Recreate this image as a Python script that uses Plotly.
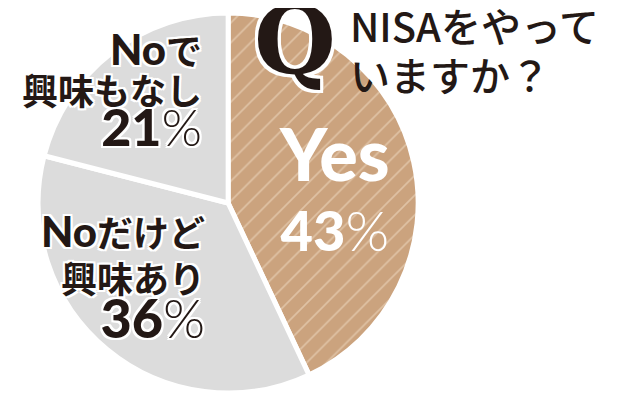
import plotly.graph_objects as go

labels = ["Yes", "Noだけど興味あり", "Noで興味もなし"]
values = [43, 36, 21]
colors = ["#cba37e", "#dcdcdc", "#dcdcdc"]
patterns = ["/", "", ""]

title_q = "Q"
title_lines = ["NISAをやって", "いますか？"]

JP = "Noto Sans CJK JP"
LAT = "'Lato Black',Lato"
DARK = "#231815"

def outline(w):
    return ", ".join(f"{dx}px {dy}px 0 white" for dx in (-w, 0, w) for dy in (-w, 0, w) if dx or dy)

fig = go.Figure(go.Pie(
    labels=labels, values=values, sort=False, direction="clockwise", rotation=0,
    textinfo="none", hoverinfo="skip", showlegend=False,
    marker=dict(colors=colors, line=dict(color="white", width=5),
                pattern=dict(shape=patterns, fgcolor="#dfc2a4", bgcolor=colors,
                             size=14, solidity=0.12, fillmode="replace")),
    domain=dict(x=[0.044, 0.644], y=[0.0375, 0.9875]),
))

def lat(t, size, weight=900):
    return f"<span style=\"font-family:{LAT};font-weight:{weight};font-size:{size}px\">{t}</span>"

def latl(t, size):
    return f"<span style=\"font-family:Lato;font-weight:300;font-size:{size}px\">{t}</span>"

def jp(t, size, weight=700):
    return f"<span style=\"font-family:{JP};font-weight:{weight};font-size:{size}px\">{t}</span>"

def pct(v, size):
    return lat(str(v), size, 900) + latl("%", size)

groups = []
groups.append(dict(
    x=196 / 640, y=1 - 82 / 400, base=31, shadow=outline(2), color=DARK,
    text=lat("No", 42) + jp("で", 36) + "<br>" + jp("興味もなし", 36) + "<br>" + pct(values[2], 52)))
groups.append(dict(
    x=199 / 640, y=1 - 269 / 400, base=35, shadow=outline(2), color=DARK,
    text=lat("No", 42) + jp("だけど", 36) + "<br>" + jp("興味あり", 36) + "<br>" + pct(values[1], 54)))
groups.append(dict(
    x=326 / 640, y=1 - 178 / 400, base=54, shadow="none", color="white",
    text=lat("Yes", 72) + "<br>" + pct(values[0], 56)))

anns = []
for a in groups:
    dark = a["color"] == DARK
    anns.append(dict(xref="paper", yref="paper", x=a["x"], y=a["y"], text=a["text"], showarrow=False,
                     xanchor="right" if dark else "center", yanchor="middle",
                     align="right" if dark else "center",
                     font=dict(family=JP, size=a["base"], color=a["color"], shadow=a["shadow"])))

anns.append(dict(xref="paper", yref="paper", x=287 / 640, y=1 - 32 / 400, text="<b>" + title_q + "</b>",
                 showarrow=False, xanchor="center", yanchor="middle", borderpad=0,
                 font=dict(family="DejaVu Serif", size=94, color=DARK, weight=900, shadow=outline(3))))
anns.append(dict(xref="paper", yref="paper", x=341 / 640, y=1 - 41 / 400,
                 text="<br>".join(jp(t, 40, 500) for t in title_lines),
                 showarrow=False, xanchor="left", yanchor="middle", align="left", borderpad=0,
                 font=dict(family=JP, size=38, color=DARK)))

fig.update_layout(width=640, height=400, margin=dict(l=0, r=0, t=0, b=0),
                  paper_bgcolor="white", plot_bgcolor="white", annotations=anns)
fig.write_html("out.html")
